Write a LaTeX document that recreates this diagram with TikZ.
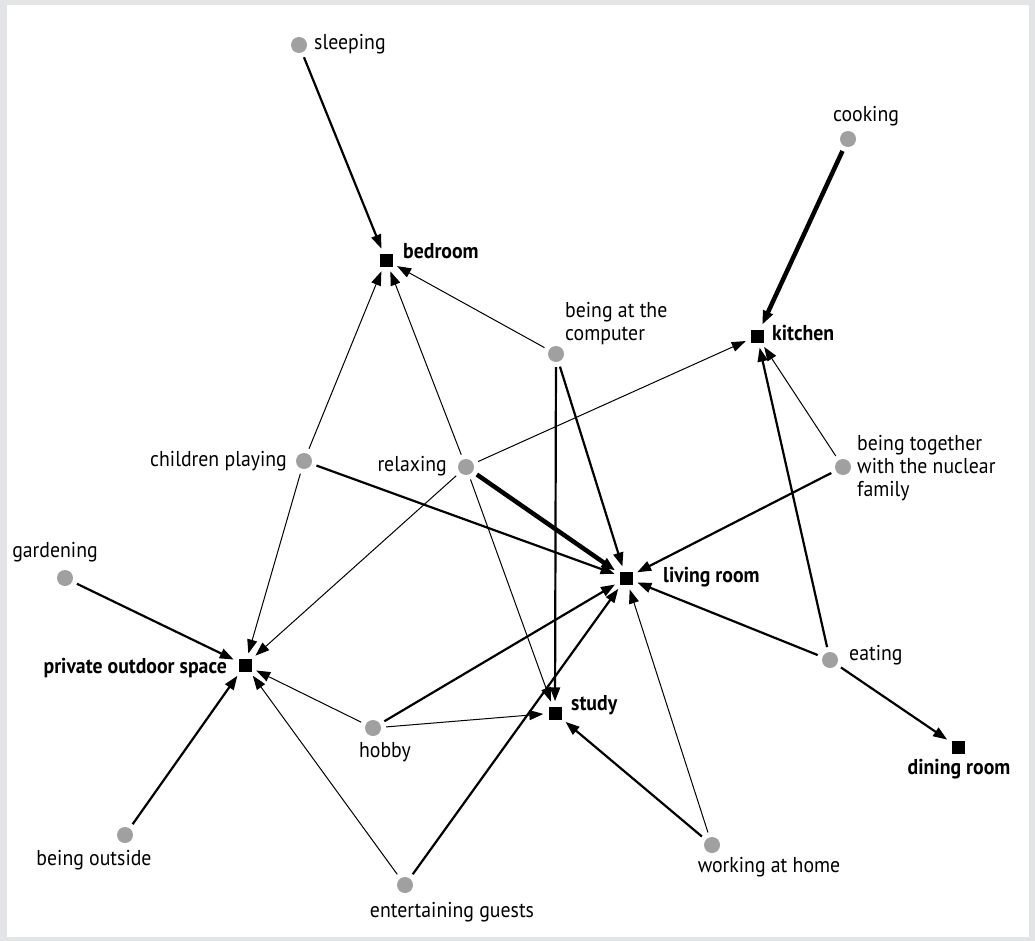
\documentclass[tikz,border=0pt]{standalone}
\usepackage{fontspec}
\setmainfont{PT Sans}[FakeStretch=0.92]
\usetikzlibrary{arrows.meta}
\definecolor{actgray}{HTML}{A0A0A0}
\definecolor{bggray}{HTML}{E3E4E6}
\begin{document}
\begin{tikzpicture}[x=1pt,y=-1pt,
  act/.style={circle,fill=actgray,minimum size=16pt,inner sep=0pt},
  room/.style={rectangle,fill=black,minimum size=13pt,inner sep=0pt},
  lbl/.style={font=\fontsize{21.5}{23}\selectfont,inner sep=0pt,align=left},
  rlbl/.style={font=\fontsize{21.5}{23}\selectfont\bfseries,inner sep=0pt},
  link/.style={-{Triangle[length=14pt,width=10pt]},shorten <=5pt,shorten >=5pt},
  wk/.style={link,line width=1pt},
  md/.style={link,line width=2.2pt},
  st/.style={link,line width=4.5pt}]
\useasboundingbox (0,0) rectangle (1035,941);
\fill[bggray] (0,0) rectangle (1035,941);
\fill[white] (7,5) rectangle (1029,937);

% activities
\node[act] (sleep) at (299,45) {};
\node[act] (cook) at (848,139) {};
\node[act] (comp) at (556,354) {};
\node[act] (child) at (304,461) {};
\node[act] (relax) at (466,467) {};
\node[act] (nuc) at (843,467) {};
\node[act] (garden) at (65,578) {};
\node[act] (eat) at (830,660) {};
\node[act] (hobby) at (373,728) {};
\node[act] (outside) at (125,835) {};
\node[act] (work) at (712,845) {};
\node[act] (guests) at (405,885) {};

% rooms
\node[room] (bed) at (386,260) {};
\node[room] (kit) at (757,336) {};
\node[room] (living) at (626,578) {};
\node[room] (pos) at (245,665) {};
\node[room] (study) at (555,713) {};
\node[room] (dining) at (958,747) {};

% labels
\node[lbl,anchor=west] (lsleep) at (314,44) {sleeping};
\node[lbl] (lcook) at (866,116) {cooking};
\node[lbl,anchor=west] (lcomp) at (565,324) {being at the\\computer};
\node[lbl,anchor=east] (lchild) at (287,461) {children playing};
\node[lbl,anchor=east] (lrelax) at (447,466) {relaxing};
\node[lbl,anchor=west] (lnuc) at (857,468) {being together\\with the nuclear\\family};
\node[lbl] (lgarden) at (55,552) {gardening};
\node[lbl,anchor=west] (leat) at (849,655) {eating};
\node[lbl] (lhobby) at (385,752) {hobby};
\node[lbl] (loutside) at (94,860) {being outside};
\node[lbl] (lwork) at (769,867) {working at home};
\node[lbl] (lguests) at (452,912) {entertaining guests};

\node[rlbl,anchor=west] (lbed) at (403,251) {bedroom};
\node[rlbl,anchor=west] (lkit) at (772,333) {kitchen};
\node[rlbl,anchor=west] (lliving) at (663,577) {living room};
\node[rlbl,anchor=east] (lpos) at (227,668) {private outdoor space};
\node[rlbl,anchor=west] (lstudy) at (571,705) {study};
\node[rlbl] (ldining) at (959,769) {dining room};

% connectors
\draw[md] (sleep) -- (bed);
\draw[st] (cook) -- (kit);
\draw[wk] (comp) -- (bed);
\draw[md] (comp) -- (study);
\draw[md] (comp) -- (living);
\draw[wk] (child) -- (bed);
\draw[md] (child) -- (living);
\draw[wk] (child) -- (pos);
\draw[wk] (relax) -- (bed);
\draw[wk] (relax) -- (kit);
\draw[st] (relax) -- (living);
\draw[wk] (relax) -- (pos);
\draw[wk] (relax) -- (study);
\draw[wk] (nuc) -- (kit);
\draw[md] (nuc) -- (living);
\draw[md] (garden) -- (pos);
\draw[md] (eat) -- (kit);
\draw[md] (eat) -- (living);
\draw[md] (eat) -- (dining);
\draw[wk] (hobby) -- (pos);
\draw[wk] (hobby) -- (study);
\draw[md] (hobby) -- (living);
\draw[md] (outside) -- (pos);
\draw[md] (work) -- (study);
\draw[wk] (work) -- (living);
\draw[wk] (guests) -- (pos);
\draw[md] (guests) -- (living);
\end{tikzpicture}
\end{document}
